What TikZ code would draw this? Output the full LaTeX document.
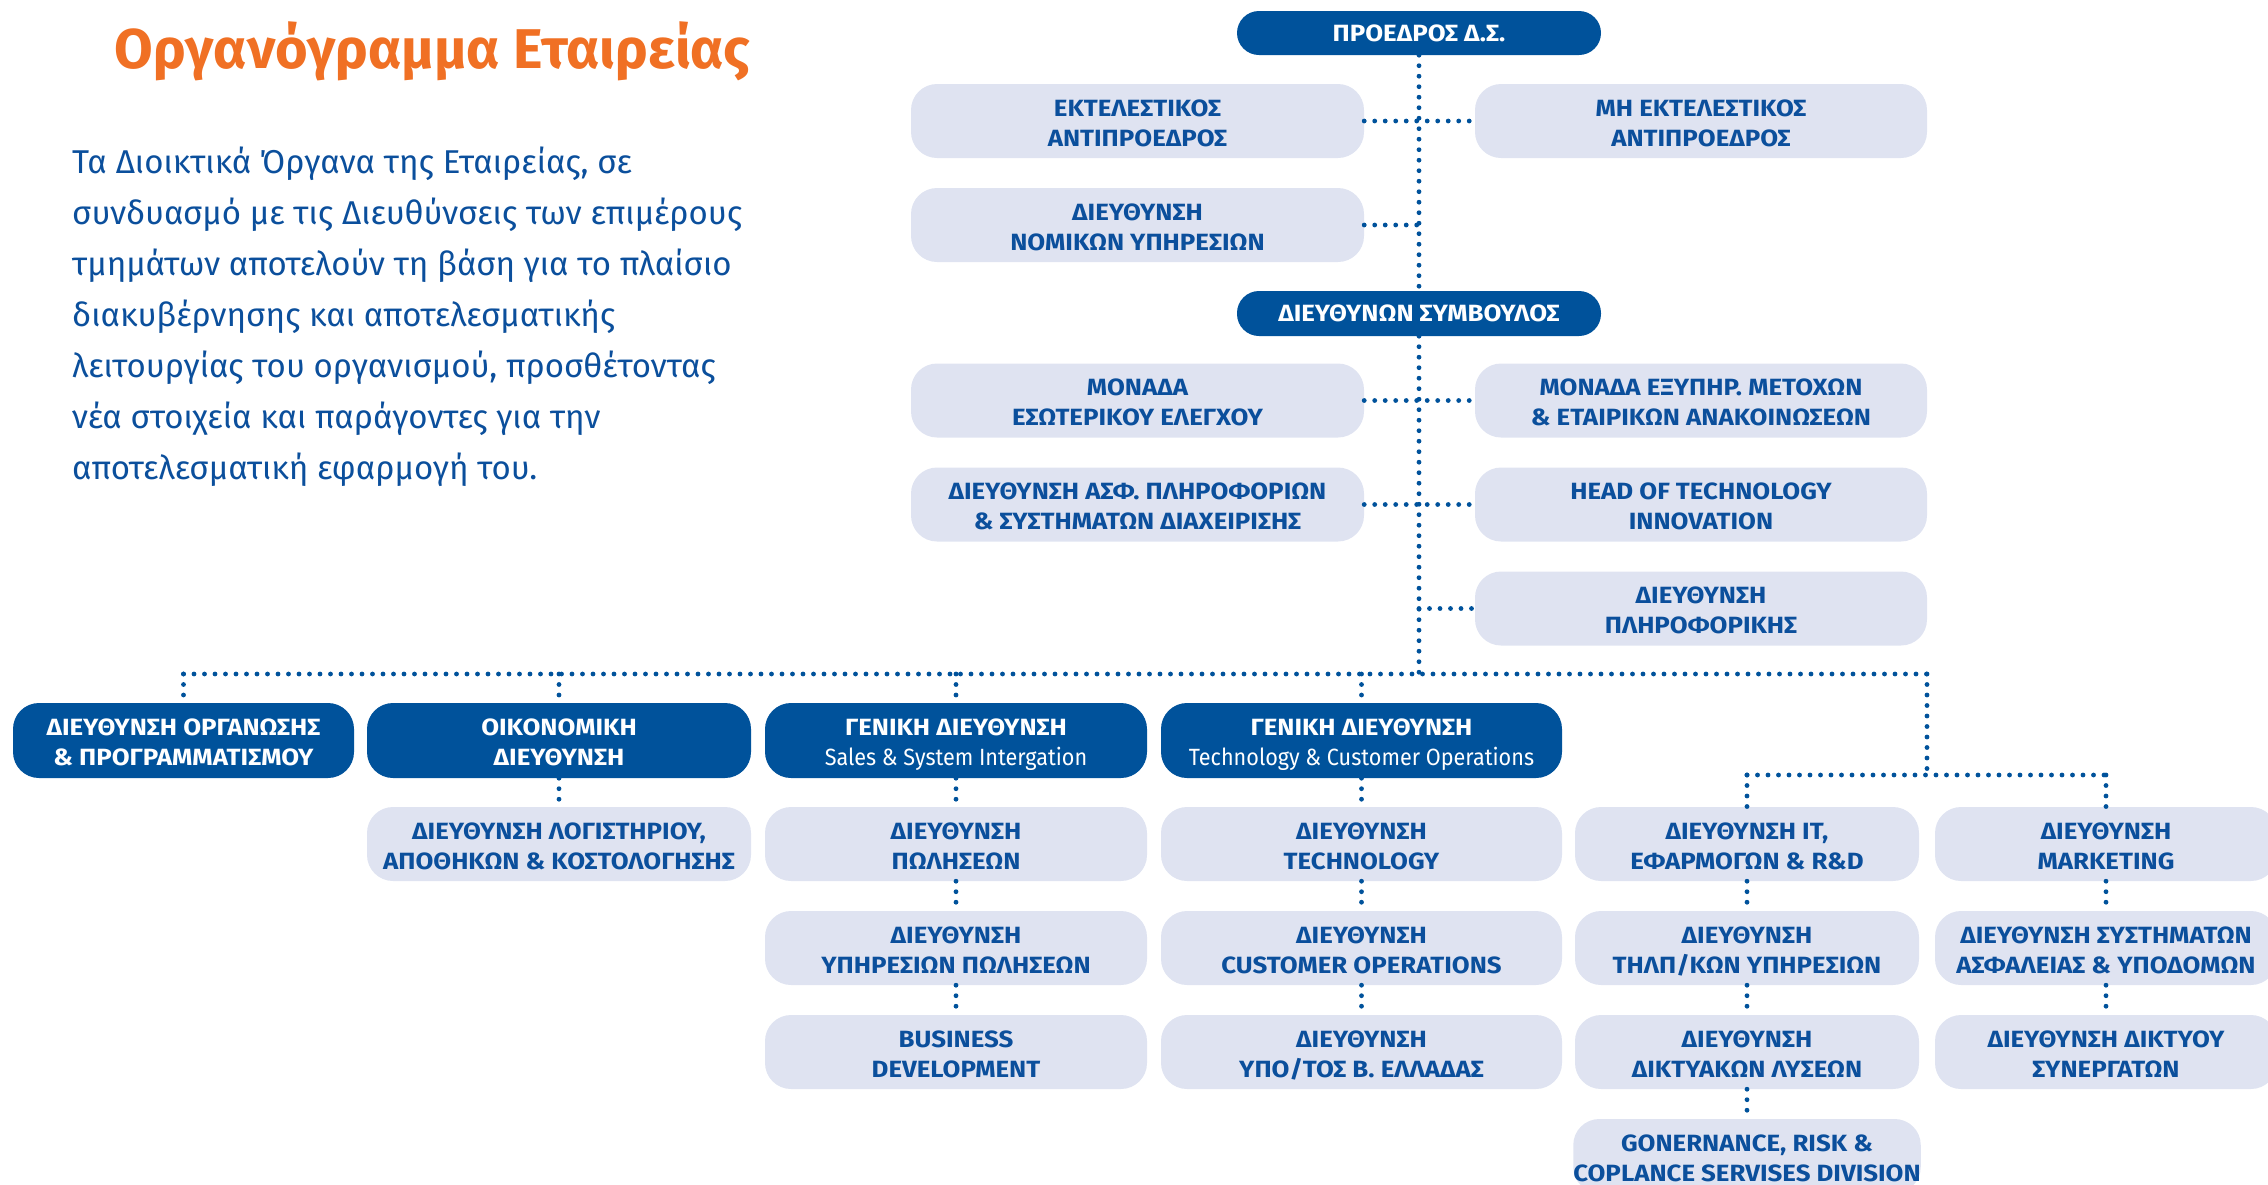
\documentclass[tikz,border=0pt]{standalone}
\usepackage{fontspec}
\setmainfont{Fira Sans}
\newfontfamily\boxfont[FakeStretch=1.1]{Fira Sans}
\newfontfamily\condfont[FakeStretch=0.92]{Fira Sans}
\newfontfamily\parafont{Fira Sans}
\newfontfamily\titlefont{Fira Sans}
\newcommand\twol[2]{\begin{tabular}[t]{@{}c@{}}#1\\#2\end{tabular}}
\definecolor{dblue}{HTML}{00529B}
\definecolor{lbox}{HTML}{DFE3F1}
\definecolor{tblue}{HTML}{0B4F9C}
\definecolor{orng}{HTML}{F07024}
\tikzset{
  basebox/.style={inner sep=0pt, align=center, font=\boxfont\bfseries\fontsize{23.5pt}{30pt}\selectfont},
  twoline/.style={text height=12pt, text depth=22pt},
  darkbox/.style={basebox, fill=dblue, text=white, rounded corners=22pt},
  lightbox/.style={basebox, twoline, fill=lbox, text=tblue, rounded corners=26pt, minimum height=74pt},
  dotline/.style={draw=dblue, line width=4.8pt, line cap=round, dash pattern=on 0pt off 10.5pt}
}
\begin{document}
\begin{tikzpicture}[x=1pt,y=-1pt]
\useasboundingbox (0,0) rectangle (2268,1184);
% title and text
\node[anchor=base west, text=orng, font=\titlefont\bfseries\fontsize{56pt}{60pt}\selectfont] (title) at (111,68) {Οργανόγραμμα Εταιρείας};
\node[anchor=north west, align=left, inner sep=0pt, text=tblue, font=\parafont\fontsize{33pt}{51pt}\selectfont] (para) at (72,147)
 {Τα Διοικτικά Όργανα της Εταιρείας, σε\\
  συνδυασμό με τις Διευθύνσεις των επιμέρους\\
  τμημάτων αποτελούν τη βάση για το πλαίσιο\\
  διακυβέρνησης και αποτελεσματικής\\
  λειτουργίας του οργανισμού, προσθέτοντας\\
  νέα στοιχεία και παράγοντες για την\\
  αποτελεσματική εφαρμογή του.};
% top part
\node[darkbox, minimum width=364pt, minimum height=44pt] (pres) at (1419,33) {ΠΡΟΕΔΡΟΣ Δ.Σ.};
\node[darkbox, minimum width=364pt, minimum height=45pt] (ceo) at (1419,313.5) {ΔΙΕΥΘΥΝΩΝ ΣΥΜΒΟΥΛΟΣ};
\node[lightbox, minimum width=453pt] (ekt) at (1137.5,121) {\twol{ΕΚΤΕΛΕΣΤΙΚΟΣ}{ΑΝΤΙΠΡΟΕΔΡΟΣ}};
\node[lightbox, minimum width=452pt] (mhekt) at (1701,121) {\twol{ΜΗ ΕΚΤΕΛΕΣΤΙΚΟΣ}{ΑΝΤΙΠΡΟΕΔΡΟΣ}};
\node[lightbox, minimum width=453pt] (nom) at (1137.5,225) {\twol{ΔΙΕΥΘΥΝΣΗ}{ΝΟΜΙΚΩΝ ΥΠΗΡΕΣΙΩΝ}};
\node[lightbox, minimum width=453pt] (mon) at (1137.5,400.5) {\twol{ΜΟΝΑΔΑ}{ΕΣΩΤΕΡΙΚΟΥ ΕΛΕΓΧΟΥ}};
\node[lightbox, minimum width=452pt] (mex) at (1701,400.5) {\twol{ΜΟΝΑΔΑ ΕΞΥΠΗΡ. ΜΕΤΟΧΩΝ}{\& ΕΤΑΙΡΙΚΩΝ ΑΝΑΚΟΙΝΩΣΕΩΝ}};
\node[lightbox, minimum width=453pt] (asf) at (1137.5,504.5) {\twol{ΔΙΕΥΘΥΝΣΗ ΑΣΦ. ΠΛΗΡΟΦΟΡΙΩΝ}{\& ΣΥΣΤΗΜΑΤΩΝ ΔΙΑΧΕΙΡΙΣΗΣ}};
\node[lightbox, minimum width=452pt] (head) at (1701,504.5) {\twol{HEAD OF TECHNOLOGY}{INNOVATION}};
\node[lightbox, minimum width=452pt] (pli) at (1701,608.5) {\twol{ΔΙΕΥΘΥΝΣΗ}{ΠΛΗΡΟΦΟΡΙΚΗΣ}};
% row 2
\node[darkbox, twoline, rounded corners=26pt, minimum width=341pt, minimum height=75pt] (org) at (183.5,740.5) {\twol{ΔΙΕΥΘΥΝΣΗ ΟΡΓΑΝΩΣΗΣ}{\& ΠΡΟΓΡΑΜΜΑΤΙΣΜΟΥ}};
\node[darkbox, twoline, rounded corners=26pt, minimum width=384pt, minimum height=75pt] (oik) at (559,740.5) {\twol{ΟΙΚΟΝΟΜΙΚΗ}{ΔΙΕΥΘΥΝΣΗ}};
\node[darkbox, twoline, rounded corners=26pt, minimum width=382pt, minimum height=75pt] (sal) at (956,740.5) {\twol{ΓΕΝΙΚΗ ΔΙΕΥΘΥΝΣΗ}{\condfont\mdseries Sales \& System Intergation}};
\node[darkbox, twoline, rounded corners=26pt, minimum width=401pt, minimum height=75pt] (tec) at (1361.5,740.5) {\twol{ΓΕΝΙΚΗ ΔΙΕΥΘΥΝΣΗ}{\condfont\mdseries Technology \& Customer Operations}};
% row 3
\node[lightbox, minimum width=384pt] (log) at (559,844) {\twol{ΔΙΕΥΘΥΝΣΗ ΛΟΓΙΣΤΗΡΙΟΥ,}{ΑΠΟΘΗΚΩΝ \& ΚΟΣΤΟΛΟΓΗΣΗΣ}};
\node[lightbox, minimum width=382pt] (pol) at (956,844) {\twol{ΔΙΕΥΘΥΝΣΗ}{ΠΩΛΗΣΕΩΝ}};
\node[lightbox, minimum width=401pt] (tech) at (1361.5,844) {\twol{ΔΙΕΥΘΥΝΣΗ}{TECHNOLOGY}};
\node[lightbox, minimum width=344pt] (it) at (1747,844) {\twol{ΔΙΕΥΘΥΝΣΗ IT,}{ΕΦΑΡΜΟΓΩΝ \& R\&D}};
\node[lightbox, minimum width=342pt] (mkt) at (2106,844) {\twol{ΔΙΕΥΘΥΝΣΗ}{MARKETING}};
% row 4
\node[lightbox, minimum width=382pt] (ypp) at (956,948) {\twol{ΔΙΕΥΘΥΝΣΗ}{ΥΠΗΡΕΣΙΩΝ ΠΩΛΗΣΕΩΝ}};
\node[lightbox, minimum width=401pt] (cust) at (1361.5,948) {\twol{ΔΙΕΥΘΥΝΣΗ}{CUSTOMER OPERATIONS}};
\node[lightbox, minimum width=344pt] (tel) at (1747,948) {\twol{ΔΙΕΥΘΥΝΣΗ}{ΤΗΛΠ/ΚΩΝ ΥΠΗΡΕΣΙΩΝ}};
\node[lightbox, minimum width=342pt] (sys) at (2106,948) {\twol{ΔΙΕΥΘΥΝΣΗ ΣΥΣΤΗΜΑΤΩΝ}{ΑΣΦΑΛΕΙΑΣ \& ΥΠΟΔΟΜΩΝ}};
% row 5
\node[lightbox, minimum width=382pt] (bdev) at (956,1052) {\twol{BUSINESS}{DEVELOPMENT}};
\node[lightbox, minimum width=401pt] (ypo) at (1361.5,1052) {\twol{ΔΙΕΥΘΥΝΣΗ}{ΥΠΟ/ΤΟΣ Β. ΕΛΛΑΔΑΣ}};
\node[lightbox, minimum width=344pt] (dikt) at (1747,1052) {\twol{ΔΙΕΥΘΥΝΣΗ}{ΔΙΚΤΥΑΚΩΝ ΛΥΣΕΩΝ}};
\node[lightbox, minimum width=342pt] (syn) at (2106,1052) {\twol{ΔΙΕΥΘΥΝΣΗ ΔΙΚΤΥΟΥ}{ΣΥΝΕΡΓΑΤΩΝ}};
% row 6
\node[lightbox, minimum width=344pt] (gov) at (1747,1156) {\twol{GONERNANCE, RISK \&}{COPLANCE SERVISES DIVISION}};
% coordinates
\coordinate (busC) at (1419,674);
\coordinate (busL) at (183.5,674);
\coordinate (busR) at (1927,674);
\coordinate (subR) at (1927,775);
% connectors
\draw[dotline] (pres.south) -- (ceo.north);
\draw[dotline] (ceo.south) -- (busC);
\draw[dotline] (ekt.east) -- (mhekt.west);
\draw[dotline] (nom.east) -- (nom.east -| pres.south);
\draw[dotline] (mon.east) -- (mex.west);
\draw[dotline] (asf.east) -- (head.west);
\draw[dotline] (pli.west -| pres.south) -- (pli.west);
\draw[dotline] (busL) -- (busR);
\draw[dotline] (busL) -- (org.north);
\draw[dotline] (oik.north |- busL) -- (oik.north);
\draw[dotline] (sal.north |- busL) -- (sal.north);
\draw[dotline] (tec.north |- busL) -- (tec.north);
\draw[dotline] (busR) -- (subR);
\draw[dotline] (it.north |- subR) -- (mkt.north |- subR);
\draw[dotline] (it.north |- subR) -- (it.north);
\draw[dotline] (mkt.north |- subR) -- (mkt.north);
\draw[dotline] (oik.south) -- (log.north);
\draw[dotline] (sal.south) -- (pol.north);
\draw[dotline] (pol.south) -- (ypp.north);
\draw[dotline] (ypp.south) -- (bdev.north);
\draw[dotline] (tec.south) -- (tech.north);
\draw[dotline] (tech.south) -- (cust.north);
\draw[dotline] (cust.south) -- (ypo.north);
\draw[dotline] (it.south) -- (tel.north);
\draw[dotline] (tel.south) -- (dikt.north);
\draw[dotline] (dikt.south) -- (gov.north);
\draw[dotline] (mkt.south) -- (sys.north);
\draw[dotline] (sys.south) -- (syn.north);
\end{tikzpicture}
\end{document}
